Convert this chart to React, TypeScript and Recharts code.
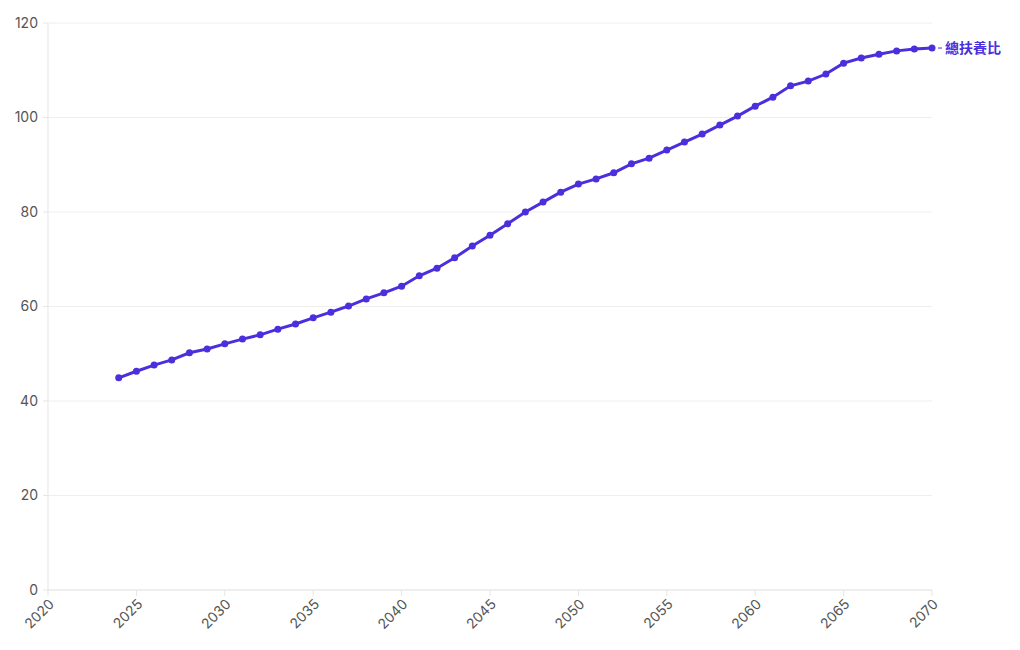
import { LineChart, Line, XAxis, YAxis, CartesianGrid, LabelList } from "recharts";

const years = [
  2024, 2025, 2026, 2027, 2028, 2029, 2030, 2031, 2032, 2033, 2034, 2035, 2036, 2037, 2038, 2039,
  2040, 2041, 2042, 2043, 2044, 2045, 2046, 2047, 2048, 2049, 2050, 2051, 2052, 2053, 2054, 2055,
  2056, 2057, 2058, 2059, 2060, 2061, 2062, 2063, 2064, 2065, 2066, 2067, 2068, 2069, 2070,
];

const ratio = [
  44.9, 46.3, 47.6, 48.7, 50.2, 51.0, 52.1, 53.1, 54.0, 55.2, 56.3, 57.6, 58.8, 60.1, 61.6, 62.9,
  64.3, 66.5, 68.1, 70.3, 72.8, 75.1, 77.5, 80.0, 82.1, 84.2, 85.9, 87.0, 88.3, 90.2, 91.4, 93.1,
  94.8, 96.5, 98.4, 100.3, 102.4, 104.3, 106.7, 107.7, 109.2, 111.5, 112.6, 113.4, 114.1, 114.5, 114.7,
];

const xTicks = [2020, 2025, 2030, 2035, 2040, 2045, 2050, 2055, 2060, 2065, 2070];
const yTicks = [0, 20, 40, 60, 80, 100, 120];
const seriesName = "總扶養比";
const color = "#4a2fdc";

const data = years.map((year, i) => ({ year, value: ratio[i] }));

const EndLabel = (props: any) => {
  const { x, y, index } = props;
  if (index !== data.length - 1) return null;
  return (
    <g>
      <line x1={x + 6} y1={y} x2={x + 10} y2={y} stroke={color} strokeWidth={1} />
      <text
        x={x + 13}
        y={y}
        dy={5}
        fill={color}
        fontSize={14}
        fontWeight={700}
        fontFamily="'Noto Sans CJK TC', sans-serif"
      >
        {seriesName}
      </text>
    </g>
  );
};

export default function App() {
  return (
    <div style={{ width: 1004, height: 634, fontFamily: "Inter, sans-serif" }}>
      <LineChart
        width={1004}
        height={634}
        data={data}
        margin={{ top: 15, right: 80, bottom: 2, left: 0 }}
      >
        <CartesianGrid vertical={false} stroke="#eeeeee" />
        <XAxis
          dataKey="year"
          type="number"
          domain={[2020, 2070]}
          ticks={xTicks}
          interval={0}
          angle={-45}
          textAnchor="end"
          height={50}
          tick={{ fill: "#555", fontSize: 14 }}
          stroke="#e5e5e5"
          tickSize={6}
        />
        <YAxis
          domain={[0, 120]}
          ticks={yTicks}
          width={40}
          tick={{ fill: "#555", fontSize: 14 }}
          stroke="#e5e5e5"
          tickSize={5}
          tickMargin={5}
        />
        <Line
          type="linear"
          dataKey="value"
          stroke={color}
          strokeWidth={3}
          dot={{ r: 3.5, fill: color, stroke: color, strokeWidth: 0 }}
          activeDot={false}
          isAnimationActive={false}
        >
          <LabelList dataKey="value" content={<EndLabel />} />
        </Line>
      </LineChart>
    </div>
  );
}
